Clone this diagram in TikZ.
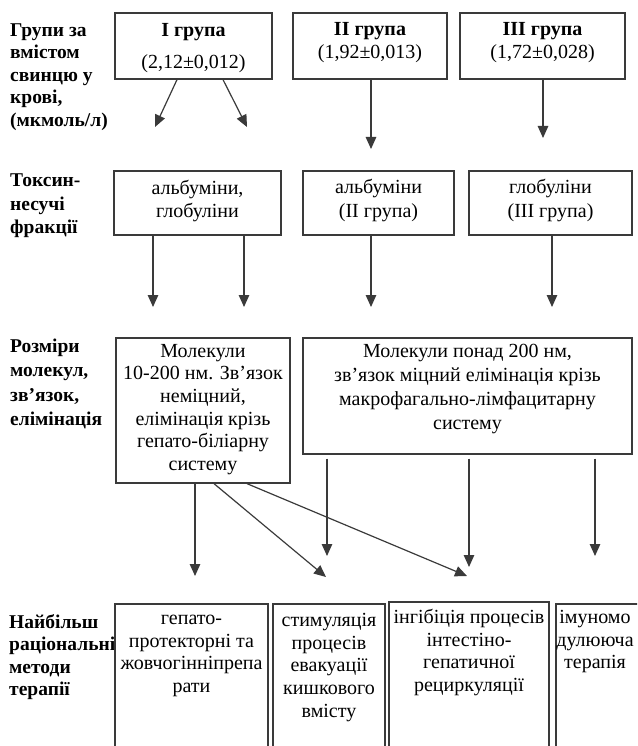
\documentclass[tikz,border=0pt]{standalone}
\usepackage{fontspec}
\setmainfont{Liberation Serif}
\usetikzlibrary{arrows.meta}
\definecolor{linec}{HTML}{3A3A3A}
\begin{document}
\begin{tikzpicture}[x=1pt,y=-1pt,
  box/.style={draw=linec, line width=1.3pt, rectangle, inner sep=0pt},
  arr/.style={draw=linec, line width=1.2pt, -{Triangle[length=12pt,width=10.5pt]}},
  txt/.style={align=center, font=\fontsize{20}{22.6}\selectfont, inner sep=0pt},
  lbl/.style={align=left, anchor=west, inner sep=0pt}]
\useasboundingbox (0,0) rectangle (637,746);
\clip (0,0) rectangle (637,746);

% left labels
\node[lbl, font=\fontsize{19.5}{22.5}\selectfont\bfseries] (l1) at (10,77) {Групи за\\вмістом\\свинцю у\\крові,\\(мкмоль/л)};
\node[lbl, font=\fontsize{19.5}{23.5}\selectfont\bfseries] (l2) at (10,206) {Токсин-\\несучі\\фракції};
\node[lbl, font=\fontsize{19.5}{24.3}\selectfont\bfseries] (l3) at (10,384) {Розміри\\молекул,\\зв’язок,\\елімінація};
\node[lbl, font=\fontsize{19.5}{22.5}\selectfont\bfseries] (l4) at (9,657) {Найбільш\\раціональні\\методи\\терапії};

% top row
\node[box, minimum width=157pt, minimum height=66pt] (g1) at (193.5,46) {};
\node[box, minimum width=154pt, minimum height=66pt] (g2) at (370,46) {};
\node[box, minimum width=165pt, minimum height=66pt] (g3) at (542.5,46) {};
\node[txt] (g1t) at (193.5,48) {\textbf{І група}\\[10pt](2,12±0,012)};
\node[txt] (g2t) at (370,42.5) {\textbf{ІІ група}\\(1,92±0,013)};
\node[txt] (g3t) at (542.5,42.5) {\textbf{ІІІ група}\\(1,72±0,028)};

\coordinate (ta) at (155,127);
\coordinate (tb) at (247,127);
\coordinate (tc) at (371,149);
\coordinate (td) at (543,138);
\draw[arr] ([xshift=-16.5pt]g1.south) -- (ta);
\draw[arr] ([xshift=29.5pt]g1.south) -- (tb);
\draw[arr] ([xshift=1pt]g2.south) -- (tc);
\draw[arr] ([xshift=0.5pt]g3.south) -- (td);

% toxin row
\node[box, minimum width=167pt, minimum height=64pt] (f1) at (197.5,203) {};
\node[box, minimum width=151pt, minimum height=64pt] (f2) at (378.5,203) {};
\node[box, minimum width=163pt, minimum height=64pt] (f3) at (550.5,203) {};
\node[txt, font=\fontsize{20}{23}\selectfont] (f1t) at (197.5,201) {альбуміни,\\глобуліни};
\node[txt, font=\fontsize{20}{24}\selectfont] (f2t) at (378.5,200.5) {альбуміни\\(ІІ група)};
\node[txt, font=\fontsize{20}{24}\selectfont] (f3t) at (550.5,200.5) {глобуліни\\(ІІІ група)};

\coordinate (te) at (153,307);
\coordinate (tf) at (244,307);
\coordinate (tg) at (371,307);
\coordinate (th) at (552,307);
\draw[arr] (f1.south -| te) -- (te);
\draw[arr] (f1.south -| tf) -- (tf);
\draw[arr] (f2.south -| tg) -- (tg);
\draw[arr] (f3.south -| th) -- (th);

% size row
\node[box, minimum width=174pt, minimum height=145pt] (m1) at (203,410.5) {};
\node[box, minimum width=329pt, minimum height=116pt] (m2) at (467.5,396) {};
\node[txt] (m1t) at (203,409.5) {Молекули\\10-200 нм. Зв’язок\\неміцний,\\елімінація крізь\\гепато-біліарну\\систему};
\node[txt, font=\fontsize{20}{24}\selectfont] (m2t) at (467.5,389) {Молекули понад 200 нм,\\зв’язок міцний елімінація крізь\\макрофагально-лімфацитарну\\систему};

\coordinate (ti) at (195,576);
\coordinate (tj) at (326,577);
\coordinate (tk) at (467,576);
\coordinate (tl) at (327,556);
\coordinate (tm) at (469,567);
\coordinate (tn) at (595,556);
\draw[arr] (m1.south -| ti) -- (ti);
\draw[arr] ([xshift=11pt]m1.south) -- (tj);
\draw[arr] ([xshift=44pt]m1.south) -- (tk);
\draw[arr] ([yshift=-4pt]m2.south -| tl) -- (tl);
\draw[arr] ([yshift=-4pt]m2.south -| tm) -- (tm);
\draw[arr] ([yshift=-4pt]m2.south -| tn) -- (tn);

% therapy row (boxes run off the bottom of the page)
\node[box, minimum width=153pt, minimum height=170pt] (b1) at (191.5,689) {};
\node[box, minimum width=112pt, minimum height=170pt] (b2) at (329,689) {};
\node[box, minimum width=160pt, minimum height=172pt] (b3) at (469,688) {};
\node[box, minimum width=110pt, minimum height=170pt] (b4) at (611,689) {};
\node[txt] (b1t) at (191.5,656) {гепато-\\протекторні та\\жовчогінніпрепа\\рати};
\node[txt] (b2t) at (329,667.5) {стимуляція\\процесів\\евакуації\\кишкового\\вмісту};
\node[txt] (b3t) at (469,652.5) {інгібіція процесів\\інтестіно-\\гепатичної\\рециркуляції};
\node[txt] (b4t) at (595,641.5) {імуномо\\дулююча\\терапія};
\end{tikzpicture}
\end{document}
